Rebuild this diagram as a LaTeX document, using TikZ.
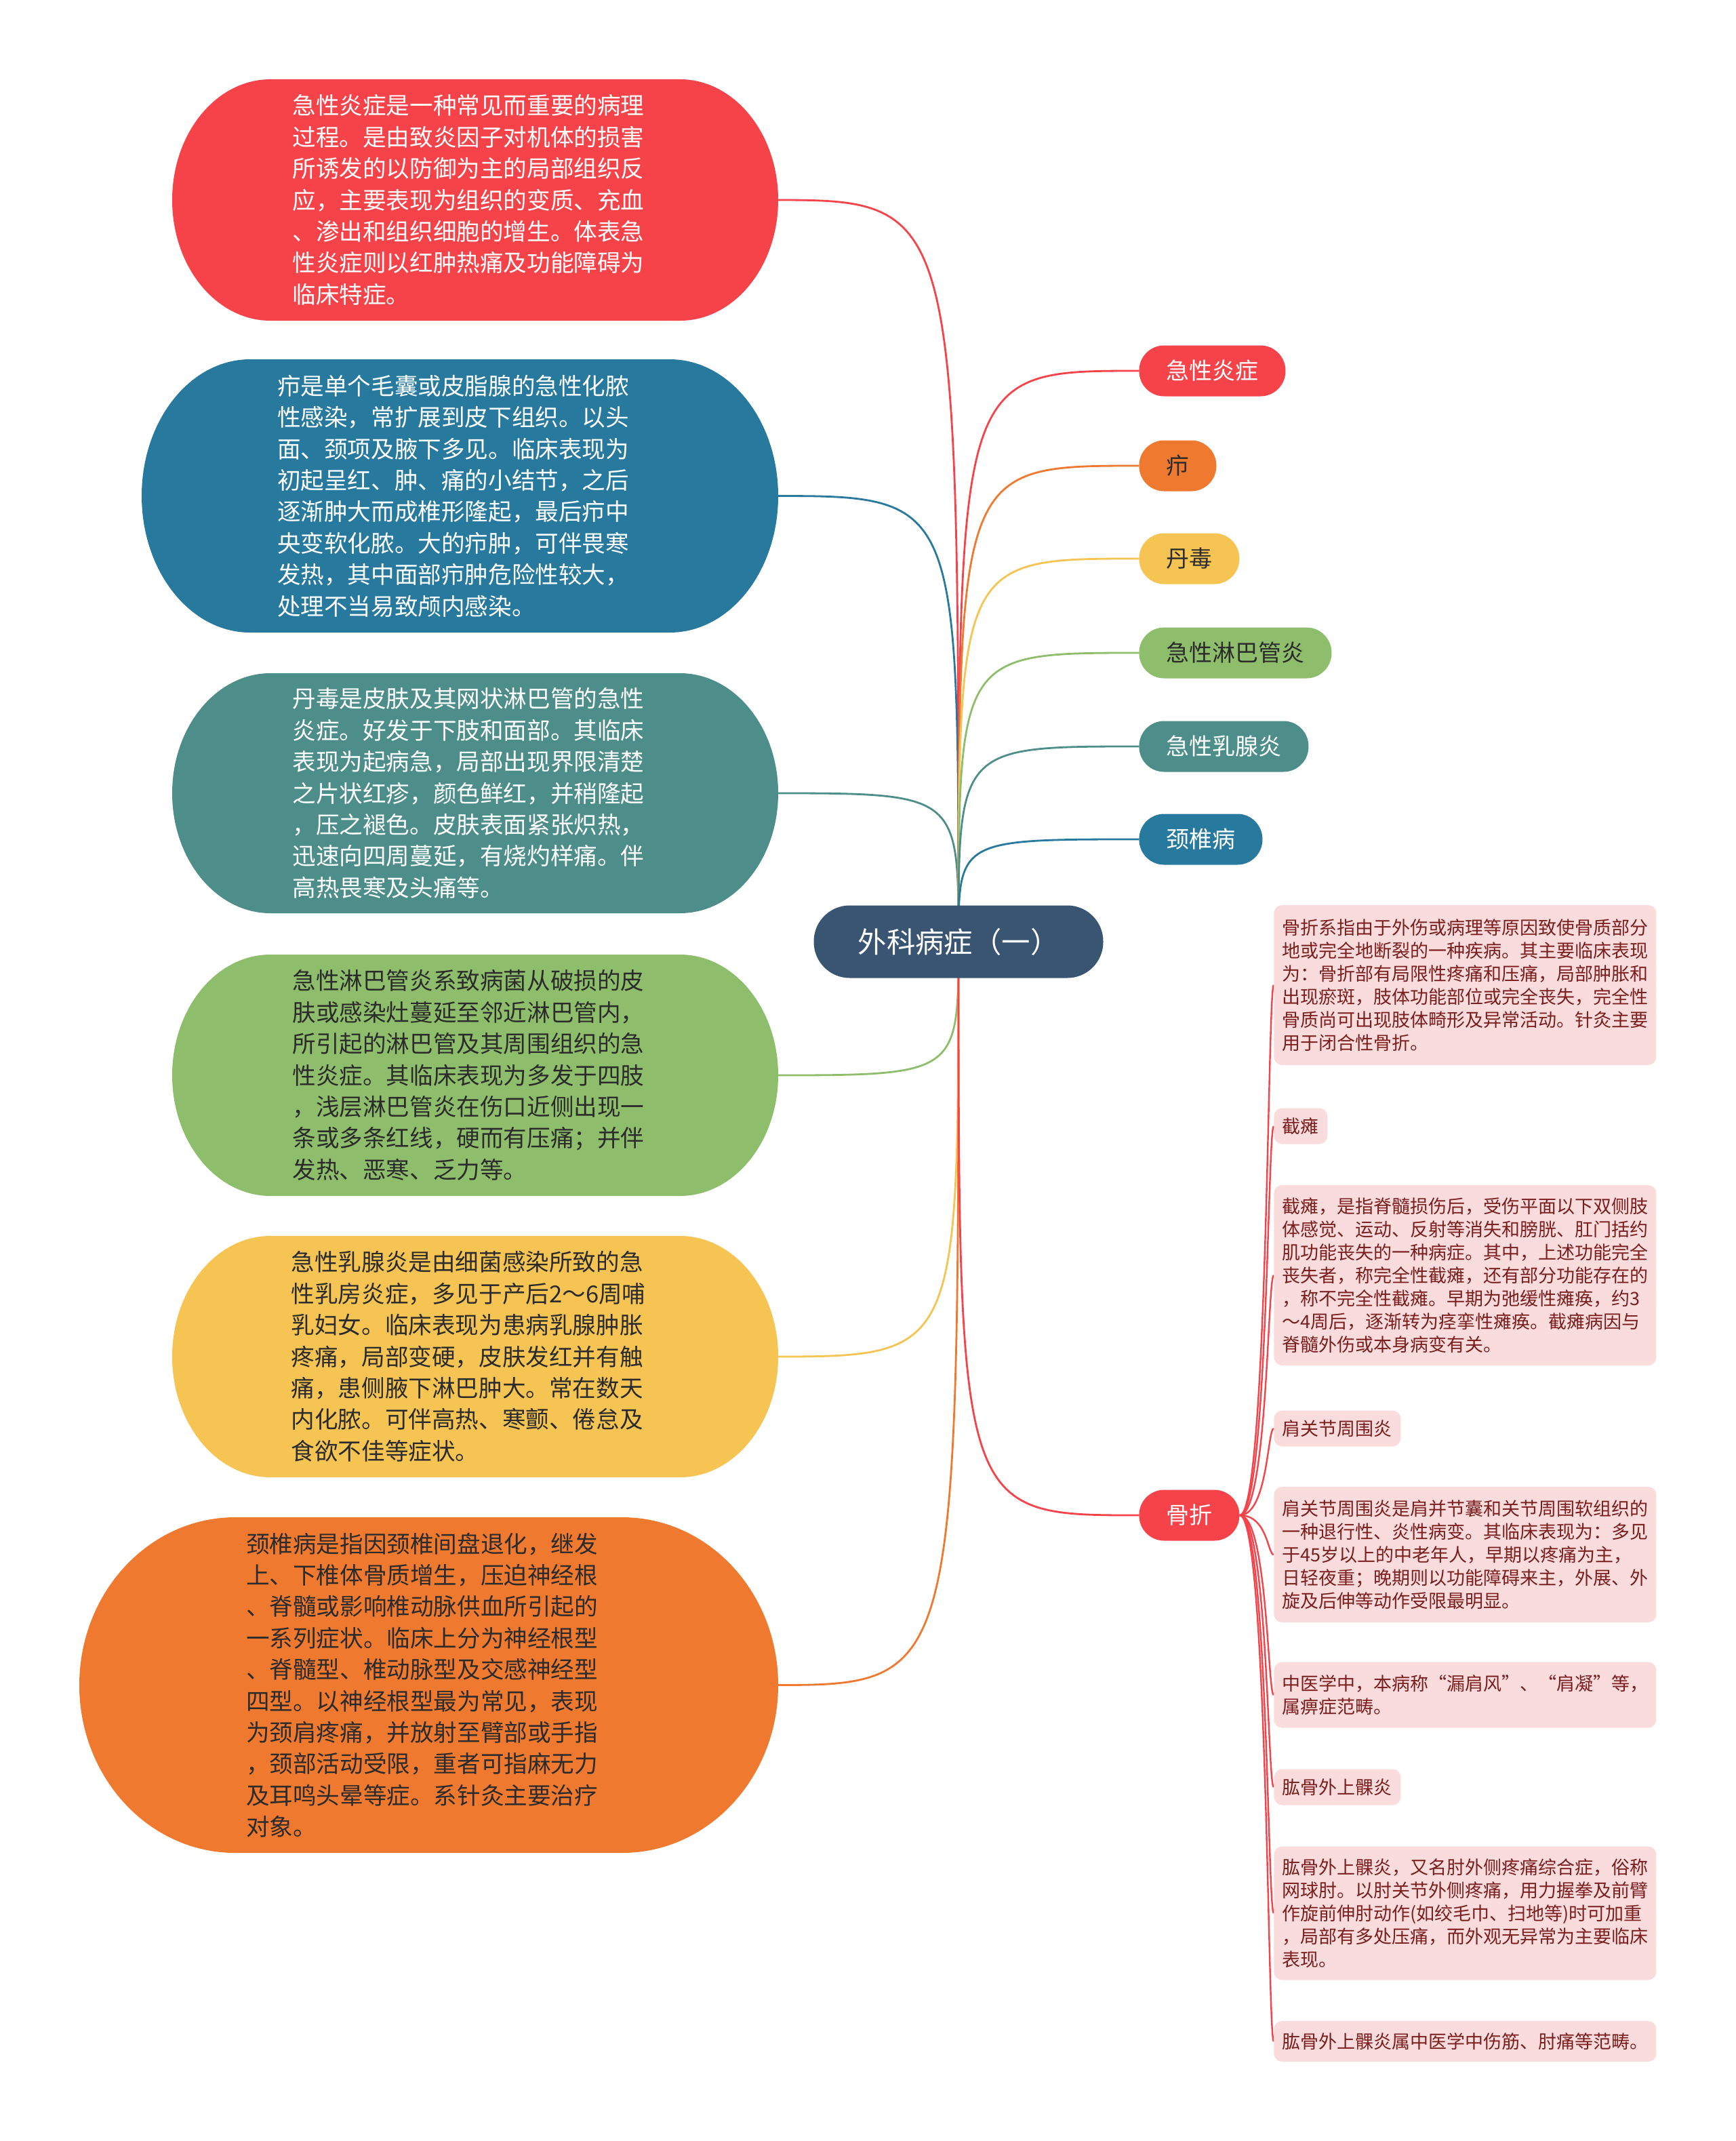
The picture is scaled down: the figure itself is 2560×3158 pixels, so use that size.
\documentclass[tikz,border=0pt]{standalone}
\usepackage{fontspec}
\setmainfont{Noto Sans CJK SC}
\usetikzlibrary{calc}
\pgfdeclarelayer{bg}
\pgfsetlayers{bg,main}
\definecolor{cRed}{HTML}{F6434A}
\definecolor{cBlue}{HTML}{28799E}
\definecolor{cTeal}{HTML}{4E8E8A}
\definecolor{cGreen}{HTML}{8EBE6B}
\definecolor{cYellow}{HTML}{F5C452}
\definecolor{cOrange}{HTML}{EF7A2F}
\definecolor{cRoot}{HTML}{3A5571}
\definecolor{cPink}{HTML}{FBDCDD}
\definecolor{cDarkRed}{HTML}{7A1E1E}
\definecolor{cDark}{HTML}{2B2B2B}
\newcommand\bigbox[9]{%
  \fill[#6] ({#2+#9},#3) arc[start angle=90,end angle=270,x radius={#9*0.5pt},y radius={(#5-#3)*0.25pt}]
     -- ({#4-#9},#5) arc[start angle=-90,end angle=90,x radius={#9*0.5pt},y radius={(#5-#3)*0.25pt}] -- cycle;
  \node[#7, minimum width={(#4-#2)*0.5pt}, minimum height={(#5-#3)*0.5pt}] (#1) at ({(#2+#4)/2},{(#3+#5)/2}) {#8};
}
\begin{document}
\begin{tikzpicture}[x=0.5pt,y=-0.5pt,
  bigtxt/.style={inner sep=0pt, align=left, xshift=-5pt, font=\fontsize{17.3pt}{23.2pt}\selectfont},
  pill/.style={rectangle, rounded corners=18.5pt, minimum height=37.5pt, inner xsep=20pt, inner ysep=0pt, anchor=west, font=\fontsize{17pt}{20pt}\selectfont},
  rootnode/.style={rectangle, rounded corners=26.5pt, fill=cRoot, text=white, minimum width=213.5pt, minimum height=53.5pt, font=\fontsize{21.2pt}{24pt}\selectfont},
  pinkbox/.style={rectangle, rounded corners=6pt, fill=cPink, text=cDarkRed, anchor=west, inner xsep=6pt, inner ysep=0pt, text width=270pt, align=left, font=\fontsize{13.5pt}{17pt}\selectfont},
  pinklab/.style={rectangle, rounded corners=6pt, fill=cPink, text=cDarkRed, anchor=west, inner xsep=6.25pt, inner ysep=0pt, minimum height=26.5pt, font=\fontsize{13.5pt}{17pt}\selectfont},
  conn/.style={line width=1.4pt, draw=#1}]
\begin{pgfonlayer}{bg}
\fill[white] (0,0) rectangle (2560,3158);
\end{pgfonlayer}
\useasboundingbox (0,0) rectangle (2560,3158);

% central node
\node[rootnode] (root) at (1414,1389) {外科病症（一）};

% left description boxes
\bigbox{b1}{254}{117}{1148}{473}{cRed}{bigtxt, text=white}{急性炎症是一种常见而重要的病理\\过程。是由致炎因子对机体的损害\\所诱发的以防御为主的局部组织反\\应，主要表现为组织的变质、充血\\、渗出和组织细胞的增生。体表急\\性炎症则以红肿热痛及功能障碍为\\临床特症。}{145}
\bigbox{b2}{209}{530}{1148}{933}{cBlue}{bigtxt, text=white}{疖是单个毛囊或皮脂腺的急性化脓\\性感染，常扩展到皮下组织。以头\\面、颈项及腋下多见。临床表现为\\初起呈红、肿、痛的小结节，之后\\逐渐肿大而成椎形隆起，最后疖中\\央变软化脓。大的疖肿，可伴畏寒\\发热，其中面部疖肿危险性较大，\\处理不当易致颅内感染。}{160}
\bigbox{b3}{254}{993}{1148}{1347}{cTeal}{bigtxt, text=white}{丹毒是皮肤及其网状淋巴管的急性\\炎症。好发于下肢和面部。其临床\\表现为起病急，局部出现界限清楚\\之片状红疹，颜色鲜红，并稍隆起\\，压之褪色。皮肤表面紧张炽热，\\迅速向四周蔓延，有烧灼样痛。伴\\高热畏寒及头痛等。}{145}
\bigbox{b4}{254}{1408}{1148}{1764}{cGreen}{bigtxt, text=cDark}{急性淋巴管炎系致病菌从破损的皮\\肤或感染灶蔓延至邻近淋巴管内，\\所引起的淋巴管及其周围组织的急\\性炎症。其临床表现为多发于四肢\\，浅层淋巴管炎在伤口近侧出现一\\条或多条红线，硬而有压痛；并伴\\发热、恶寒、乏力等。}{145}
\bigbox{b5}{254}{1823}{1148}{2179}{cYellow}{bigtxt, text=cDark}{急性乳腺炎是由细菌感染所致的急\\性乳房炎症，多见于产后2～6周哺\\乳妇女。临床表现为患病乳腺肿胀\\疼痛，局部变硬，皮肤发红并有触\\痛，患侧腋下淋巴肿大。常在数天\\内化脓。可伴高热、寒颤、倦怠及\\食欲不佳等症状。}{145}
\bigbox{b6}{117}{2238}{1148}{2733}{cOrange}{bigtxt, text=cDark}{颈椎病是指因颈椎间盘退化，继发\\上、下椎体骨质增生，压迫神经根\\、脊髓或影响椎动脉供血所引起的\\一系列症状。临床上分为神经根型\\、脊髓型、椎动脉型及交感神经型\\四型。以神经根型最为常见，表现\\为颈肩疼痛，并放射至臂部或手指\\，颈部活动受限，重者可指麻无力\\及耳鸣头晕等症。系针灸主要治疗\\对象。}{230}

% right topic pills
\node[pill, fill=cRed, text=white] (p1) at (1680,547) {急性炎症};
\node[pill, fill=cOrange, text=cDark] (p2) at (1680,687) {疖};
\node[pill, fill=cYellow, text=cDark] (p3) at (1680,824) {丹毒};
\node[pill, fill=cGreen, text=cDark] (p4) at (1680,963) {急性淋巴管炎};
\node[pill, fill=cTeal, text=white] (p5) at (1680,1101) {急性乳腺炎};
\node[pill, fill=cBlue, text=white] (p6) at (1680,1238) {颈椎病};
\node[pill, fill=cRed, text=white] (gz) at (1680,2235) {骨折};

% children of 骨折
\node[pinkbox, minimum height=118pt] (ga) at (1879,1453) {骨折系指由于外伤或病理等原因致使骨质部分\\地或完全地断裂的一种疾病。其主要临床表现\\为：骨折部有局限性疼痛和压痛，局部肿胀和\\出现瘀斑，肢体功能部位或完全丧失，完全性\\骨质尚可出现肢体畸形及异常活动。针灸主要\\用于闭合性骨折。};
\node[pinklab] (gb) at (1879,1661) {截瘫};
\node[pinkbox, minimum height=133pt] (gc) at (1879,1881) {截瘫，是指脊髓损伤后，受伤平面以下双侧肢\\体感觉、运动、反射等消失和膀胱、肛门括约\\肌功能丧失的一种病症。其中，上述功能完全\\丧失者，称完全性截瘫，还有部分功能存在的\\，称不完全性截瘫。早期为弛缓性瘫痪，约3\\～4周后，逐渐转为痉挛性瘫痪。截瘫病因与\\脊髓外伤或本身病变有关。};
\node[pinklab] (gd) at (1879,2107) {肩关节周围炎};
\node[pinkbox, minimum height=100pt] (ge) at (1879,2293) {肩关节周围炎是肩并节囊和关节周围软组织的\\一种退行性、炎性病变。其临床表现为：多见\\于45岁以上的中老年人，早期以疼痛为主，\\日轻夜重；晚期则以功能障碍来主，外展、外\\旋及后伸等动作受限最明显。};
\node[pinkbox, minimum height=48.5pt] (gf) at (1879,2500) {中医学中，本病称“漏肩风”、“肩凝”等，\\属痹症范畴。};
\node[pinklab] (gg) at (1879,2636) {肱骨外上髁炎};
\node[pinkbox, minimum height=98.5pt] (gh) at (1879,2822) {肱骨外上髁炎，又名肘外侧疼痛综合症，俗称\\网球肘。以肘关节外侧疼痛，用力握拳及前臂\\作旋前伸肘动作(如绞毛巾、扫地等)时可加重\\，局部有多处压痛，而外观无异常为主要临床\\表现。};
\node[pinkbox, minimum height=30pt] (gi) at (1879,3011) {肱骨外上髁炎属中医学中伤筋、肘痛等范畴。};

\coordinate (gm) at (1870,0);

\begin{pgfonlayer}{bg}
  \draw[conn=cRed]    (root.center) .. controls (root.center |- b1.east) .. (b1.east);
  \draw[conn=cBlue]   (root.center) .. controls (root.center |- b2.east) .. (b2.east);
  \draw[conn=cTeal]   (root.center) .. controls (root.center |- b3.east) .. (b3.east);
  \draw[conn=cGreen]  (root.center) .. controls (root.center |- b4.east) .. (b4.east);
  \draw[conn=cYellow] (root.center) .. controls (root.center |- b5.east) .. (b5.east);
  \draw[conn=cOrange] (root.center) .. controls (root.center |- b6.east) .. (b6.east);
  \draw[conn=cRed]    (root.center) .. controls (root.center |- p1.west) .. (p1.west);
  \draw[conn=cOrange] (root.center) .. controls (root.center |- p2.west) .. (p2.west);
  \draw[conn=cYellow] (root.center) .. controls (root.center |- p3.west) .. (p3.west);
  \draw[conn=cGreen]  (root.center) .. controls (root.center |- p4.west) .. (p4.west);
  \draw[conn=cTeal]   (root.center) .. controls (root.center |- p5.west) .. (p5.west);
  \draw[conn=cBlue]   (root.center) .. controls (root.center |- p6.west) .. (p6.west);
  \draw[conn=cRed]    (root.center) .. controls (root.center |- gz.west) .. (gz.west);
  \foreach \t in {ga,gb,gc,gd,ge,gf,gg,gh,gi}
    \draw[conn=cRed, line width=1.2pt] (gz.east) .. controls (gz.east -| gm) and (gm |- \t.west) .. (\t.west);
\end{pgfonlayer}
\end{tikzpicture}
\end{document}
